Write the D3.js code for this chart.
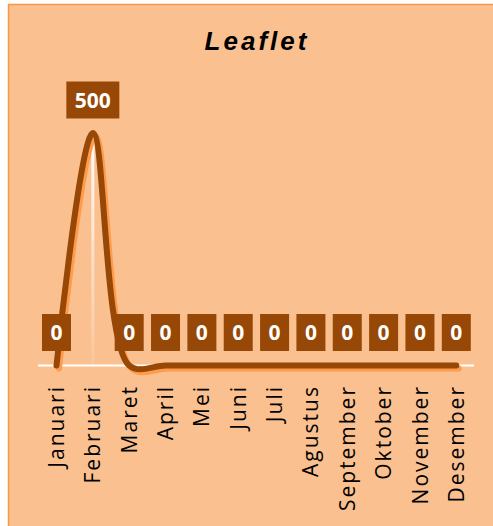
<!DOCTYPE html>
<html><head><meta charset="utf-8">
<script src="https://cdn.jsdelivr.net/npm/d3@7"></script>
<style>html,body{margin:0;padding:0;background:#fff;}svg{display:block;}</style>
</head><body>
<script>
const title = "Leaflet";
const categories = ["Januari","Februari","Maret","April","Mei","Juni","Juli","Agustus","September","Oktober","November","Desember"];
const values = [0,500,0,0,0,0,0,0,0,0,0,0];

const W = 493, H = 526;
const svg = d3.select("body").append("svg").attr("width", W).attr("height", H);

svg.append("rect").attr("x", 8.5).attr("y", 4.5).attr("width", 520).attr("height", 540)
  .attr("fill", "#FAC090").attr("stroke", "#F79646").attr("stroke-width", 1.5);

svg.append("text").attr("x", 257).attr("y", 50).attr("text-anchor", "middle")
  .attr("font-family", "Liberation Sans, Arial, sans-serif").attr("font-weight", "bold")
  .attr("font-style", "italic").attr("font-size", 26).attr("letter-spacing", 3)
  .attr("fill", "#000").text(title);

const x = d3.scalePoint().domain(categories).range([56.5, 456.3]);
const y = d3.scaleLinear().domain([0, 500]).range([365.5, 133]);

// baseline
svg.append("line").attr("x1", 38).attr("x2", 474).attr("y1", y(0)).attr("y2", y(0))
  .attr("stroke", "#fff").attr("stroke-width", 2);

// drop lines
const defs = svg.append("defs");
const grad = defs.append("linearGradient").attr("id", "dropg").attr("x1", 0).attr("x2", 0).attr("y1", 0).attr("y2", 1);
grad.append("stop").attr("offset", "0%").attr("stop-color", "#fff").attr("stop-opacity", 1);
grad.append("stop").attr("offset", "100%").attr("stop-color", "#fff").attr("stop-opacity", 0.1);
categories.forEach((c, i) => {
  if (values[i] > 0) {
    svg.append("rect").attr("x", x(c) - 1.5).attr("y", y(values[i])).attr("width", 3)
      .attr("height", y(0) - y(values[i])).attr("fill", "url(#dropg)");
  }
});

const data = categories.map((c, i) => ({c, v: values[i]}));
const line = d3.line().x(d => x(d.c)).y(d => y(d.v)).curve(d3.curveCatmullRom.alpha(0.5));

svg.append("path").attr("d", line(data)).attr("fill", "none").attr("stroke", "#FF9B4A")
  .attr("stroke-width", 6).attr("stroke-linecap", "round").attr("stroke-linejoin", "round")
  .attr("transform", "translate(2.5,3)");
svg.append("path").attr("d", line(data)).attr("fill", "none").attr("stroke", "#974706")
  .attr("stroke-width", 6).attr("stroke-linecap", "round").attr("stroke-linejoin", "round");

// labels
const lab = svg.append("g");
data.forEach(d => {
  const s = String(d.v);
  const w = s.length === 1 ? 29 : 53;
  const cx = x(d.c), cy = y(d.v) - 33;
  lab.append("rect").attr("x", cx - w / 2).attr("y", cy - 18.5).attr("width", w).attr("height", 37).attr("fill", "#974706");
  lab.append("text").attr("x", cx).attr("y", cy).attr("dy", "0.36em").attr("text-anchor", "middle")
    .attr("font-family", "Open Sans, sans-serif").attr("font-weight", "bold").attr("font-size", 21)
    .attr("fill", "#fff").text(s);
});

// x axis labels
const ax = svg.append("g");
categories.forEach(c => {
  ax.append("text").attr("transform", `translate(${x(c)},385) rotate(-90)`)
    .attr("text-anchor", "end").attr("dy", "0.36em")
    .attr("font-family", "Open Sans, sans-serif").attr("font-size", 21).attr("letter-spacing", 2)
    .attr("fill", "#000").text(c);
});
</script>
</body></html>
